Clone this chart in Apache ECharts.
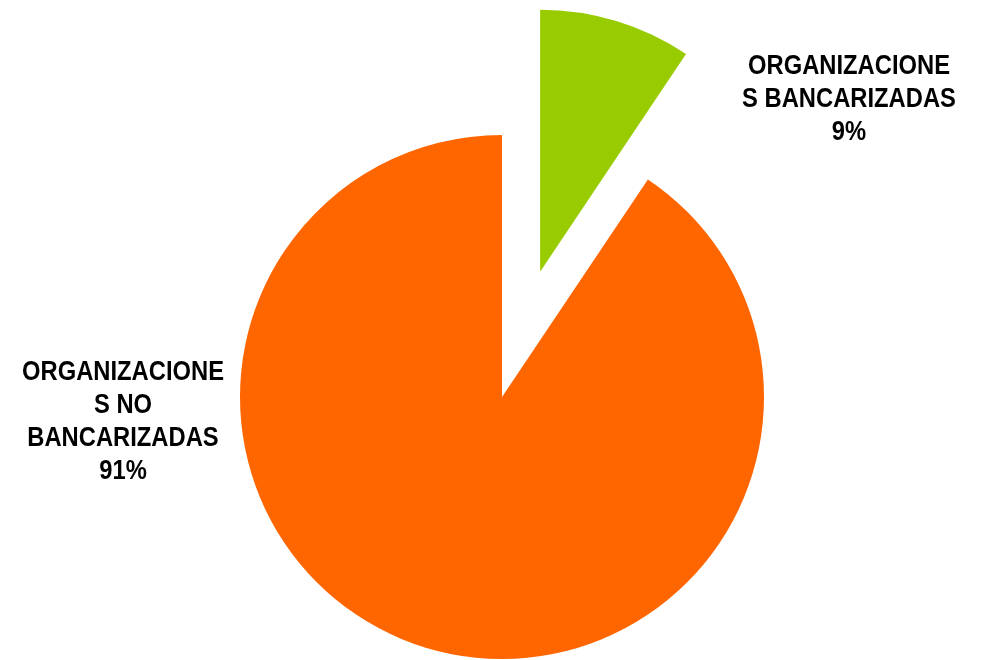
<!DOCTYPE html>
<html>
<head>
<meta charset="utf-8">
<script src="https://cdn.jsdelivr.net/npm/echarts@6/dist/echarts.min.js"></script>
<style>html,body{margin:0;padding:0;background:#fff}#c{width:984px;height:660px}</style>
</head>
<body>
<div id="c"></div>
<script>
const categories = ['ORGANIZACIONE\nS BANCARIZADAS', 'ORGANIZACIONE\nS NO\nBANCARIZADAS'];
const values = [9.4, 90.6];
const colors = ['#99CC00', '#FF6600'];
const labelPos = [[849, 100], [123, 422]];

const total = values.reduce((a, b) => a + b, 0);
const chart = echarts.init(document.getElementById('c'));
chart.setOption({
  animation: false,
  series: [{
    type: 'pie',
    center: [502, 397],
    radius: 262,
    startAngle: 90,
    clockwise: true,
    selectedMode: 'multiple',
    selectedOffset: 131,
    data: categories.map((n, i) => ({
      name: n, value: values[i], selected: i === 0,
      itemStyle: { color: colors[i] }
    })),
    label: { show: false },
    labelLine: { show: false },
    emphasis: { disabled: true }
  }],
  graphic: categories.map((n, i) => ({
    type: 'text',
    x: labelPos[i][0],
    y: labelPos[i][1],
    scaleX: 0.88,
    style: {
      text: n + '\n' + Math.round(values[i] / total * 100) + '%',
      fontFamily: '"Liberation Sans", Arial, sans-serif',
      fontWeight: 'bold',
      fontSize: 27,
      lineHeight: 33,
      fill: '#000',
      align: 'center',
      verticalAlign: 'middle'
    }
  }))
});
</script>
</body>
</html>
